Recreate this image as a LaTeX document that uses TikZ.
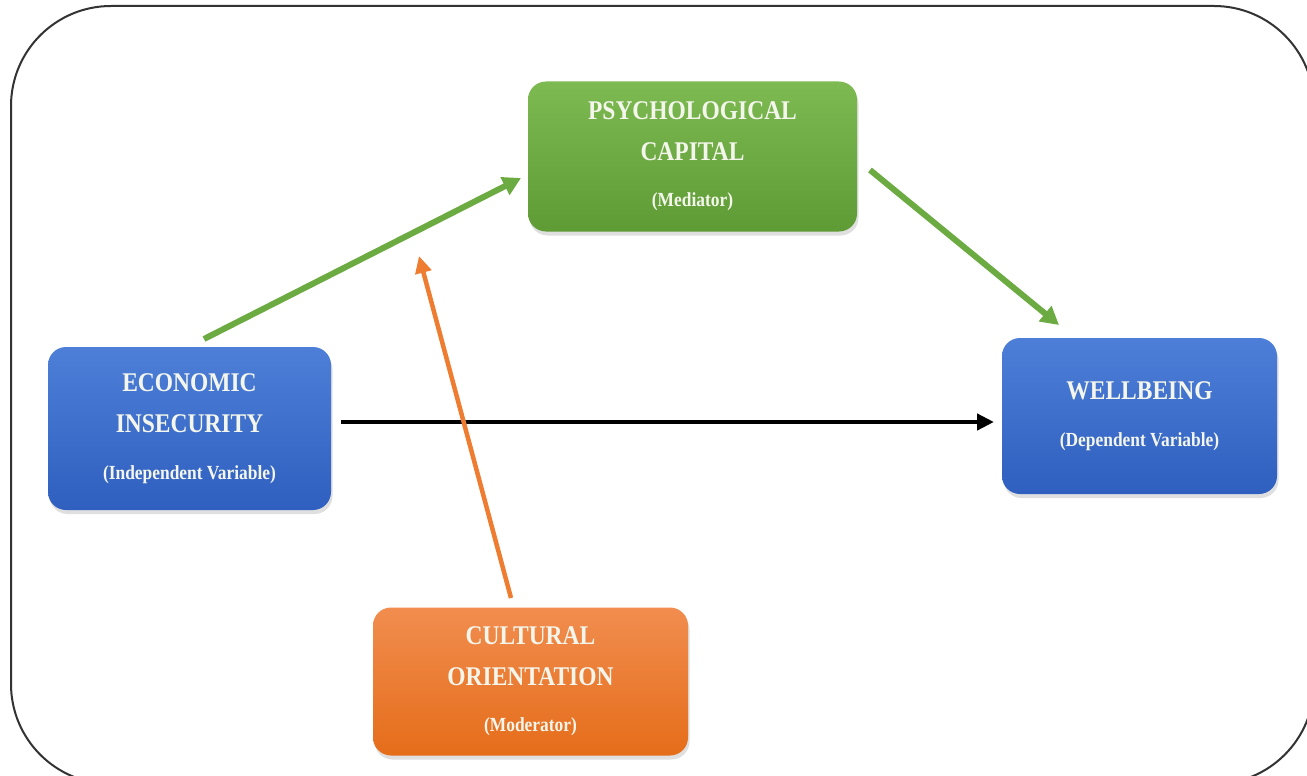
\documentclass[tikz,border=0pt]{standalone}
\usepackage{fontspec}
\newfontfamily\bxfont[FakeStretch=0.87]{Liberation Serif}
\usetikzlibrary{arrows.meta,shadows}
\definecolor{bluetop}{HTML}{4D7FD8}
\definecolor{bluebot}{HTML}{2F5FBF}
\definecolor{greentop}{HTML}{7DBA52}
\definecolor{greenbot}{HTML}{5E9B35}
\definecolor{orangetop}{HTML}{F18D4F}
\definecolor{orangebot}{HTML}{E56D1A}
\definecolor{greenarrow}{HTML}{6CAB42}
\definecolor{orangearrow}{HTML}{EE7D31}
\definecolor{framec}{HTML}{333333}
\definecolor{labelc}{HTML}{F4F6EC}
\tikzset{
  varbox/.style={rectangle, rounded corners=18pt, align=center, text=labelc,
    inner sep=0pt, drop shadow={shadow xshift=1.5pt, shadow yshift=-4pt, opacity=0.25},
    font=\bxfont\bfseries\fontsize{27}{41}\selectfont},
  bluebox/.style={varbox, top color=bluetop, bottom color=bluebot},
  greenbox/.style={varbox, top color=greentop, bottom color=greenbot},
  orangebox/.style={varbox, top color=orangetop, bottom color=orangebot},
  garrow/.style={draw=greenarrow, line width=6pt, -{Triangle[length=18pt,width=19pt]}},
  oarrow/.style={draw=orangearrow, line width=4.5pt, -{Triangle[length=17pt,width=16pt]}},
  karrow/.style={draw=black, line width=4.5pt, -{Triangle[length=17pt,width=16pt]}},
}
\newcommand{\subline}[1]{{\fontsize{20}{24}\selectfont #1}}
\begin{document}
\begin{tikzpicture}[x=1pt,y=-1pt]
\useasboundingbox (0,0) rectangle (1307,776);
\clip (0,0) rectangle (1307,776);
\fill[white] (0,0) rectangle (1307,776);
\draw[framec, line width=2pt, rounded corners=100pt] (11,6) rectangle (1314,784);

\node[greenbox, minimum width=329pt, minimum height=150pt] (pc) at (692.5,156.5)
  {PSYCHOLOGICAL\\CAPITAL\\[5pt]\subline{(Mediator)}};
\node[bluebox, minimum width=283pt, minimum height=163pt] (ei) at (189.5,428.5)
  {ECONOMIC\\INSECURITY\\[6pt]\subline{(Independent Variable)}};
\node[bluebox, minimum width=275pt, minimum height=156pt] (wb) at (1139.5,416)
  {WELLBEING\\[6pt]\subline{(Dependent Variable)}};
\node[orangebox, minimum width=315pt, minimum height=148pt] (co) at (530.5,681.5)
  {CULTURAL\\ORIENTATION\\[5pt]\subline{(Moderator)}};

\coordinate (g1s) at (204,339);
\coordinate (g1e) at (521,178);
\coordinate (g2s) at (870,170);
\coordinate (g2e) at (1059,325);
\coordinate (ks) at (341,422);
\coordinate (ke) at (994,422);
\coordinate (os) at (511,598);
\coordinate (oe) at (419,256);

\draw[garrow] (g1s) -- (g1e);
\draw[garrow] (g2s) -- (g2e);
\draw[karrow] (ks) -- (ke);
\draw[oarrow] (os) -- (oe);
\end{tikzpicture}
\end{document}
